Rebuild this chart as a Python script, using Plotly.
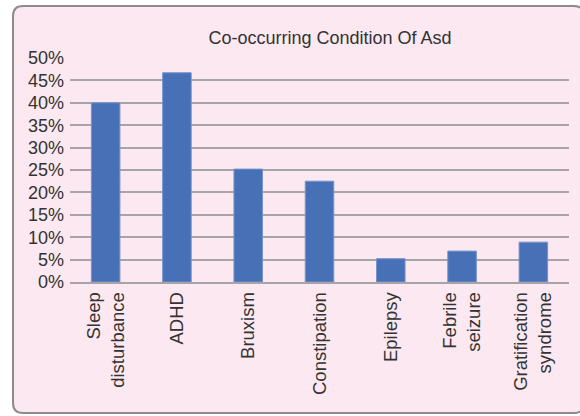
import plotly.graph_objects as go

categories = ["Sleep<br>disturbance", "ADHD", "Bruxism", "Constipation", "Epilepsy", "Febrile<br>seizure", "Gratification<br>syndrome"]
values = [40.0, 46.7, 25.2, 22.5, 5.2, 6.9, 8.9]
y_ticks = [0, 5, 10, 15, 20, 25, 30, 35, 40, 45, 50]
y_tick_labels = [f"{t}%" for t in y_ticks]

L, R, T, B = 70, 11, 58, 134
W, H = 580, 416
pw, ph = W - L - R, H - T - B

def px(x):
    return (x - L) / pw

def py(y):
    return (H - B - y) / ph

fig = go.Figure(go.Bar(
    x=categories, y=values, width=0.4,
    marker=dict(color="#4770B6", line=dict(color="#7593CC", width=1)),
))

# rounded outer border
x0, x1, y0, y1, r = 13, 584, 6, 413, 10
path = (f"M {px(x0+r)},{py(y0)} L {px(x1-r)},{py(y0)} Q {px(x1)},{py(y0)} {px(x1)},{py(y0+r)} "
        f"L {px(x1)},{py(y1-r)} Q {px(x1)},{py(y1)} {px(x1-r)},{py(y1)} "
        f"L {px(x0+r)},{py(y1)} Q {px(x0)},{py(y1)} {px(x0)},{py(y1-r)} "
        f"L {px(x0)},{py(y0+r)} Q {px(x0)},{py(y0)} {px(x0+r)},{py(y0)} Z")
fig.add_shape(type="path", path=path, xref="paper", yref="paper",
              line=dict(color="#8C8C8C", width=2), fillcolor="#FCE8F0", layer="below")

fig.update_layout(
    width=W, height=H,
    margin=dict(l=L, r=R, t=T, b=B),
    paper_bgcolor="white", plot_bgcolor="rgba(0,0,0,0)",
    showlegend=False,
    font=dict(family="Liberation Sans, Arial, sans-serif", color="#333333"),
    title=dict(text="Co-occurring Condition Of Asd", x=330 / W, xanchor="center",
               y=1 - 38 / H, yanchor="middle", font=dict(size=18, color="#333333")),
    bargap=0.6,
)
fig.update_yaxes(range=[0, 50], tickvals=y_ticks, ticktext=y_tick_labels,
                 showgrid=True, gridcolor="#A7A3A7", gridwidth=1.5, zeroline=False,
                 tickfont=dict(size=18, color="#333333"), ticks="", ticklen=0,
                 ticklabelstandoff=5, showline=False)
fig.update_xaxes(tickangle=-90, tickfont=dict(size=18.5, color="#333333"),
                 showline=True, linecolor="#A7A3A7", linewidth=1.5, ticks="",
                 ticklabelstandoff=1)

fig.write_html("out.html")
